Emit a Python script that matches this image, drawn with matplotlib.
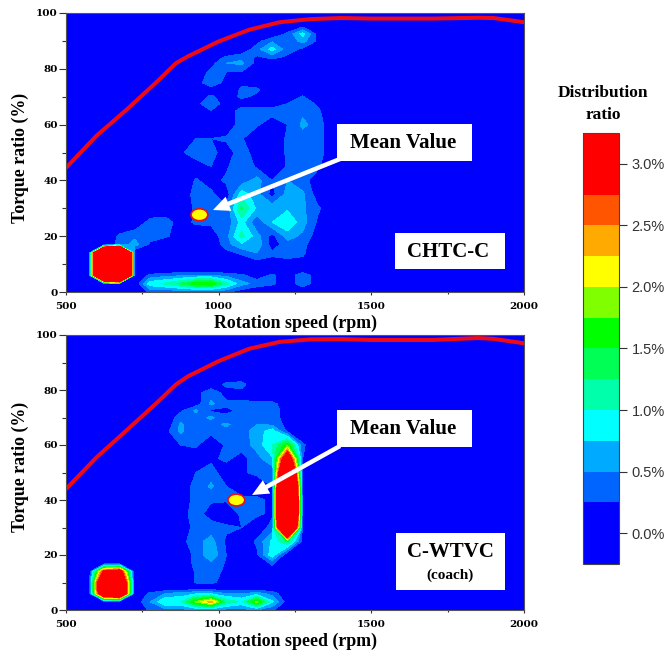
import numpy as np
import matplotlib
matplotlib.use('Agg')
import matplotlib.pyplot as plt
from matplotlib.colors import ListedColormap, BoundaryNorm
from matplotlib.cm import ScalarMappable
from matplotlib.patches import Ellipse, Rectangle, FancyArrowPatch

W, H = 667, 653

# grid of the distribution maps (zero columns are added at 500 and 2000 rpm)
speeds = [575, 625, 675, 725, 775, 825, 875, 925, 975, 1025, 1075, 1125, 1175, 1225, 1275, 1325, 1375]
torques = [100, 96, 92.5, 90, 87, 84, 82, 79, 75, 72.5, 70, 67.5, 65, 60, 55, 50, 45, 40, 35, 30, 25, 20, 17, 14, 10, 8, 6, 3, 0]

chtc_values = [
    [0, 0, 0, 0, 0, 0, 0, 0, 0, 0, 0, 0, 0, 0, 0, 0, 0],
    [0, 0, 0, 0, 0, 0, 0, 0, 0, 0, 0, 0, 0, 0, 0, 0, 0],
    [0, 0, 0, 0, 0, 0, 0, 0, 0, 0, 0, 0, 0, .3, .85, .15, 0],
    [0, 0, 0, 0, 0, 0, 0, 0, 0, 0, 0, .15, .45, .3, .6, .2, 0],
    [0, 0, 0, 0, 0, 0, 0, 0, 0, 0, 0, .4, .85, .35, .2, 0, 0],
    [0, 0, 0, 0, 0, 0, 0, 0, .1, .3, .45, .2, .3, .2, 0, 0, 0],
    [0, 0, 0, 0, 0, 0, 0, 0, .15, .5, .55, .15, 0, 0, 0, 0, 0],
    [0, 0, 0, 0, 0, 0, 0, .1, .3, .25, .25, 0, 0, 0, 0, 0, 0],
    [0, 0, 0, 0, 0, 0, 0, .1, .45, .15, .2, .1, 0, 0, 0, 0, 0],
    [0, 0, 0, 0, 0, 0, 0, 0, .1, 0, .3, .3, 0, 0, 0, 0, 0],
    [0, 0, 0, 0, 0, 0, 0, .1, .3, .1, .3, .2, 0, 0, .28, 0, 0],
    [0, 0, 0, 0, 0, 0, 0, .15, .45, .1, .1, .1, 0, .25, .4, .2, 0],
    [0, 0, 0, 0, 0, 0, 0, 0, .25, 0, .4, .4, .4, .35, .45, .3, 0],
    [0, 0, 0, 0, 0, 0, 0, 0, 0, 0, .4, .3, .05, .25, .55, .4, 0],
    [0, 0, 0, 0, 0, 0, 0, .25, .25, .3, .28, 0, 0, .3, .4, .4, 0],
    [0, 0, 0, 0, 0, 0, .2, .4, .35, .1, .4, .1, 0, .3, .35, .4, 0],
    [0, 0, 0, 0, 0, 0, 0, .1, .25, .2, .5, .2, 0, .28, .45, .3, 0],
    [0, 0, 0, 0, 0, 0, 0, .28, .15, .3, .35, .6, .25, .5, .35, .1, 0],
    [0, 0, 0, 0, 0, 0, .05, .35, .3, .1, .9, .6, .15, .6, .55, .1, 0],
    [0, 0, 0, 0, 0, 0, .05, .3, .4, .3, 1.3, .7, .65, .7, .55, .3, 0],
    [0, 0, 0, 0, .35, .4, .1, .3, .3, .3, .85, .3, .75, 1.0, .6, .2, 0],
    [0, 0, .3, .45, .35, .3, .1, 0, .1, .4, 1.1, .6, .15, .6, .45, .1, 0],
    [0, 0, .35, .6, .2, 0, 0, 0, 0, .4, .7, .7, .1, .4, .35, 0, 0],
    [0, 9, 13, 0, 0, 0, 0, 0, 0, .15, .3, .5, .3, .3, .3, 0, 0],
    [0, 9, 13, 0, 0, 0, 0, 0, 0, 0, 0, .1, .15, .2, .15, 0, 0],
    [0, 9, 13, 0, 0, 0, 0, 0, 0, 0, 0, 0, 0, 0, .1, 0, 0],
    [0, 9, 13, 0, .3, .4, .45, .5, .5, .4, .3, .1, .3, .1, .4, .1, 0],
    [0, 0, 0, 0, .9, 1.05, 1.3, 1.7, 1.75, 1.1, .6, .4, .3, .1, .4, .1, 0],
    [0, 0, 0, 0, .3, .3, .3, .3, .3, .3, .1, 0, 0, 0, 0, 0, 0],
]

wtvc_values = [
    [0, 0, 0, 0, 0, 0, 0, 0, 0, 0, 0, 0, 0, 0, 0, 0, 0],
    [0, 0, 0, 0, 0, 0, 0, 0, 0, 0, 0, 0, 0, 0, 0, 0, 0],
    [0, 0, 0, 0, 0, 0, 0, 0, 0, 0, 0, 0, 0, 0, 0, 0, 0],
    [0, 0, 0, 0, 0, 0, 0, 0, 0, 0, 0, 0, 0, 0, 0, 0, 0],
    [0, 0, 0, 0, 0, 0, 0, 0, 0, 0, 0, 0, 0, 0, 0, 0, 0],
    [0, 0, 0, 0, 0, 0, 0, 0, 0, .15, .15, 0, 0, 0, 0, 0, 0],
    [0, 0, 0, 0, 0, 0, 0, 0, .1, .3, .35, 0, 0, 0, 0, 0, 0],
    [0, 0, 0, 0, 0, 0, 0, .15, .4, .15, .15, 0, 0, 0, 0, 0, 0],
    [0, 0, 0, 0, 0, 0, 0, .1, .55, .3, .3, .3, .3, .15, 0, 0, 0],
    [0, 0, 0, 0, 0, 0, .2, .55, .2, .2, .3, .35, .35, .15, 0, 0, 0],
    [0, 0, 0, 0, 0, 0, .4, .4, .55, .3, .35, .35, .35, .15, 0, 0, 0],
    [0, 0, 0, 0, 0, 0, .55, .3, .4, .55, .35, .5, .45, .15, 0, 0, 0],
    [0, 0, 0, 0, 0, .15, .55, .3, .35, .4, .4, .6, .9, .2, 0, 0, 0],
    [0, 0, 0, 0, 0, .1, .25, .3, 0, .3, .35, .6, 1.0, 1.7, .3, 0, 0],
    [0, 0, 0, 0, 0, 0, 0, .05, .2, .3, .15, .4, .7, 3.8, .25, 0, 0],
    [0, 0, 0, 0, 0, 0, .15, .25, .35, .1, .22, .3, .3, 6, .15, 0, 0],
    [0, 0, 0, 0, 0, 0, .15, .3, .55, .25, 0, .1, .25, 8, .15, 0, 0],
    [0, 0, 0, 0, 0, 0, .15, .3, .28, .28, .35, .3, .2, 9, .15, 0, 0],
    [0, 0, 0, 0, 0, 0, .15, .35, .15, .05, .3, .3, .2, 9, .15, 0, 0],
    [0, 0, 0, 0, 0, 0, .15, .3, .35, .3, .25, .05, .35, 7, .15, 0, 0],
    [0, 0, 0, 0, 0, 0, .15, .4, .6, .2, 0, .3, .8, 1.3, .15, 0, 0],
    [0, 0, 0, 0, 0, 0, .1, .3, .7, .25, 0, .2, .9, 0, 0, 0, 0],
    [0, 0, 0, 0, 0, 0, .1, .3, .45, .22, 0, 0, .3, 0, 0, 0, 0],
    [0, 3, 3.4, 0, 0, 0, 0, .28, .35, .2, 0, 0, .1, 0, 0, 0, 0],
    [0, 5, 5, 0, 0, 0, 0, .27, .3, .15, 0, 0, 0, 0, 0, 0, 0],
    [0, 5, 5, 0, 0, 0, 0, .05, .05, 0, 0, 0, 0, 0, 0, 0, 0],
    [0, 4.5, 5, 0, .3, .5, .6, .7, .7, .5, .5, .6, .4, 0, 0, 0, 0],
    [0, 0, 0, .05, .5, 1, 1, 1.8, 2.4, 1.2, .95, 1.85, .8, .1, 0, 0, 0],
    [0, 0, 0, 0, .3, .4, .4, .5, .5, .4, .4, .5, .3, 0, 0, 0, 0],
]

# full load curves
curve_speed = [500, 600, 700, 800, 860, 900, 1000, 1100, 1200, 1300, 1400, 1500, 1700, 1850, 1900, 2000]
chtc_curve = [44.5, 56, 65.5, 75.6, 82, 84.5, 89.8, 94, 96.7, 97.8, 98.2, 98, 98, 98.3, 98.2, 96.7]
wtvc_curve = [44, 55.5, 65.5, 75.6, 82, 85, 90.5, 95, 97.5, 98.4, 98.5, 98.2, 98.2, 98.9, 98.6, 97]

chtc_mean = (937, 27.7)
wtvc_mean = (1058, 40)

levels = [-0.25, 0.25, 0.5, 0.75, 1.0, 1.25, 1.5, 1.75, 2.0, 2.25, 2.5, 2.75, 3.25]
level_colors = ['#0000ff', '#0064ff', '#00aaff', '#00ffff', '#00ffaa', '#00ff55',
                '#00ff00', '#80ff00', '#ffff00', '#ffaa00', '#ff5500', '#ff0000']
bar_ticks = [0, 0.5, 1.0, 1.5, 2.0, 2.5, 3.0]

cmap = ListedColormap(level_colors)
cmap.set_over('#ff0000')
norm = BoundaryNorm(levels, cmap.N)

SERIF = 'Liberation Serif'


def add_box(fig, left, top, right, bottom):
    fig.add_artist(Rectangle((left / W, 1 - bottom / H), (right - left) / W, (bottom - top) / H,
                             transform=fig.transFigure, facecolor='white', edgecolor='none', zorder=5))


def put_text(fig, x, y, s, size):
    fig.text(x / W, 1 - y / H, s, family=SERIF, weight='bold', size=size, ha='center', va='center', zorder=6)


def draw_map(fig, top, bottom, values, curve, mean, ylabel_y):
    ax = fig.add_axes([66 / W, 1 - bottom / H, 458 / W, (bottom - top) / H])
    x = [500] + speeds + [2000]
    y = torques[::-1]
    z = np.array(values[::-1], dtype=float)
    z = np.pad(z, ((0, 0), (1, 1)))
    ax.contourf(x, y, z, levels=levels, cmap=cmap, norm=norm, extend='max')
    ax.plot(curve_speed, curve, color='#f00a14', lw=2.9)
    ax.add_patch(Ellipse(mean, 55, 4.3, facecolor='#ffff00', edgecolor='#f00a14', lw=1.2, zorder=4))
    ax.set_xlim(500, 2000)
    ax.set_ylim(0, 100)
    ax.set_xticks([500, 1000, 1500, 2000])
    ax.set_xticks([750, 1250, 1750], minor=True)
    ax.set_yticks([0, 20, 40, 60, 80, 100])
    ax.set_yticks([10, 30, 50, 70, 90], minor=True)
    ax.tick_params(axis='y', which='major', length=5, width=0.8, color='#333333', pad=1)
    ax.tick_params(axis='y', which='minor', length=3, width=0.8, color='#333333')
    ax.tick_params(axis='x', which='major', length=2, width=0.8, color='#333333', pad=5)
    ax.tick_params(axis='x', which='minor', length=1.5, width=0.8, color='#333333')
    for label in ax.get_xticklabels() + ax.get_yticklabels():
        label.set_family('DejaVu Serif')
        label.set_weight('bold')
        label.set_size(7.5)
    ax.set_xlabel('Rotation speed (rpm)', family=SERIF, weight='bold', size=12.9, va='center')
    ax.xaxis.set_label_coords(0.5, -31 / (bottom - top))
    ax.set_ylabel('Torque ratio (%)', family=SERIF, weight='bold', size=12.9, va='center')
    ax.yaxis.set_label_coords(-46 / 458, ylabel_y)
    for s in ax.spines.values():
        s.set_linewidth(0.8)
        s.set_color('#555555')
    return ax


def add_arrow(fig, start, end):
    fig.add_artist(FancyArrowPatch(
        (start[0] / W, 1 - start[1] / H), (end[0] / W, 1 - end[1] / H),
        transform=fig.transFigure, arrowstyle='simple,head_length=12,head_width=11,tail_width=3.2',
        color='white', lw=0, shrinkA=0, shrinkB=0, zorder=5))


fig = plt.figure(figsize=(W / 100, H / 100), dpi=100)

draw_map(fig, 13, 292, chtc_values, chtc_curve, chtc_mean, 0.48)
draw_map(fig, 335, 610, wtvc_values, wtvc_curve, wtvc_mean, 0.52)

add_arrow(fig, (340, 159), (213, 210))
add_arrow(fig, (340, 446), (252, 495))

add_box(fig, 337, 124, 472, 161)
put_text(fig, 403, 143, 'Mean Value', 15)
add_box(fig, 337, 410, 472, 447)
put_text(fig, 403, 429, 'Mean Value', 15)
add_box(fig, 395, 233, 505, 269)
put_text(fig, 448, 252, 'CHTC-C', 15)
add_box(fig, 396, 533, 505, 590)
put_text(fig, 450, 552, 'C-WTVC', 15)
put_text(fig, 450, 575, '(coach)', 11)

cax = fig.add_axes([583 / W, 1 - 564 / H, 36 / W, 431 / H])
fig.colorbar(ScalarMappable(norm=norm, cmap=cmap), cax=cax, ticks=bar_ticks,
             boundaries=levels, spacing='proportional', drawedges=False)
cax.set_yticklabels(['%.1f%%' % t for t in bar_ticks], family='Liberation Sans', size=10.5, color='#333333')
cax.tick_params(length=6, width=0.8, color='#333333', pad=3)
cax.minorticks_off()
for s in cax.spines.values():
    s.set_linewidth(0.8)
    s.set_color('#444444')

put_text(fig, 603, 93, 'Distribution', 12.5)
put_text(fig, 603, 115, 'ratio', 12.5)

fig.savefig('out.png', dpi=100)
